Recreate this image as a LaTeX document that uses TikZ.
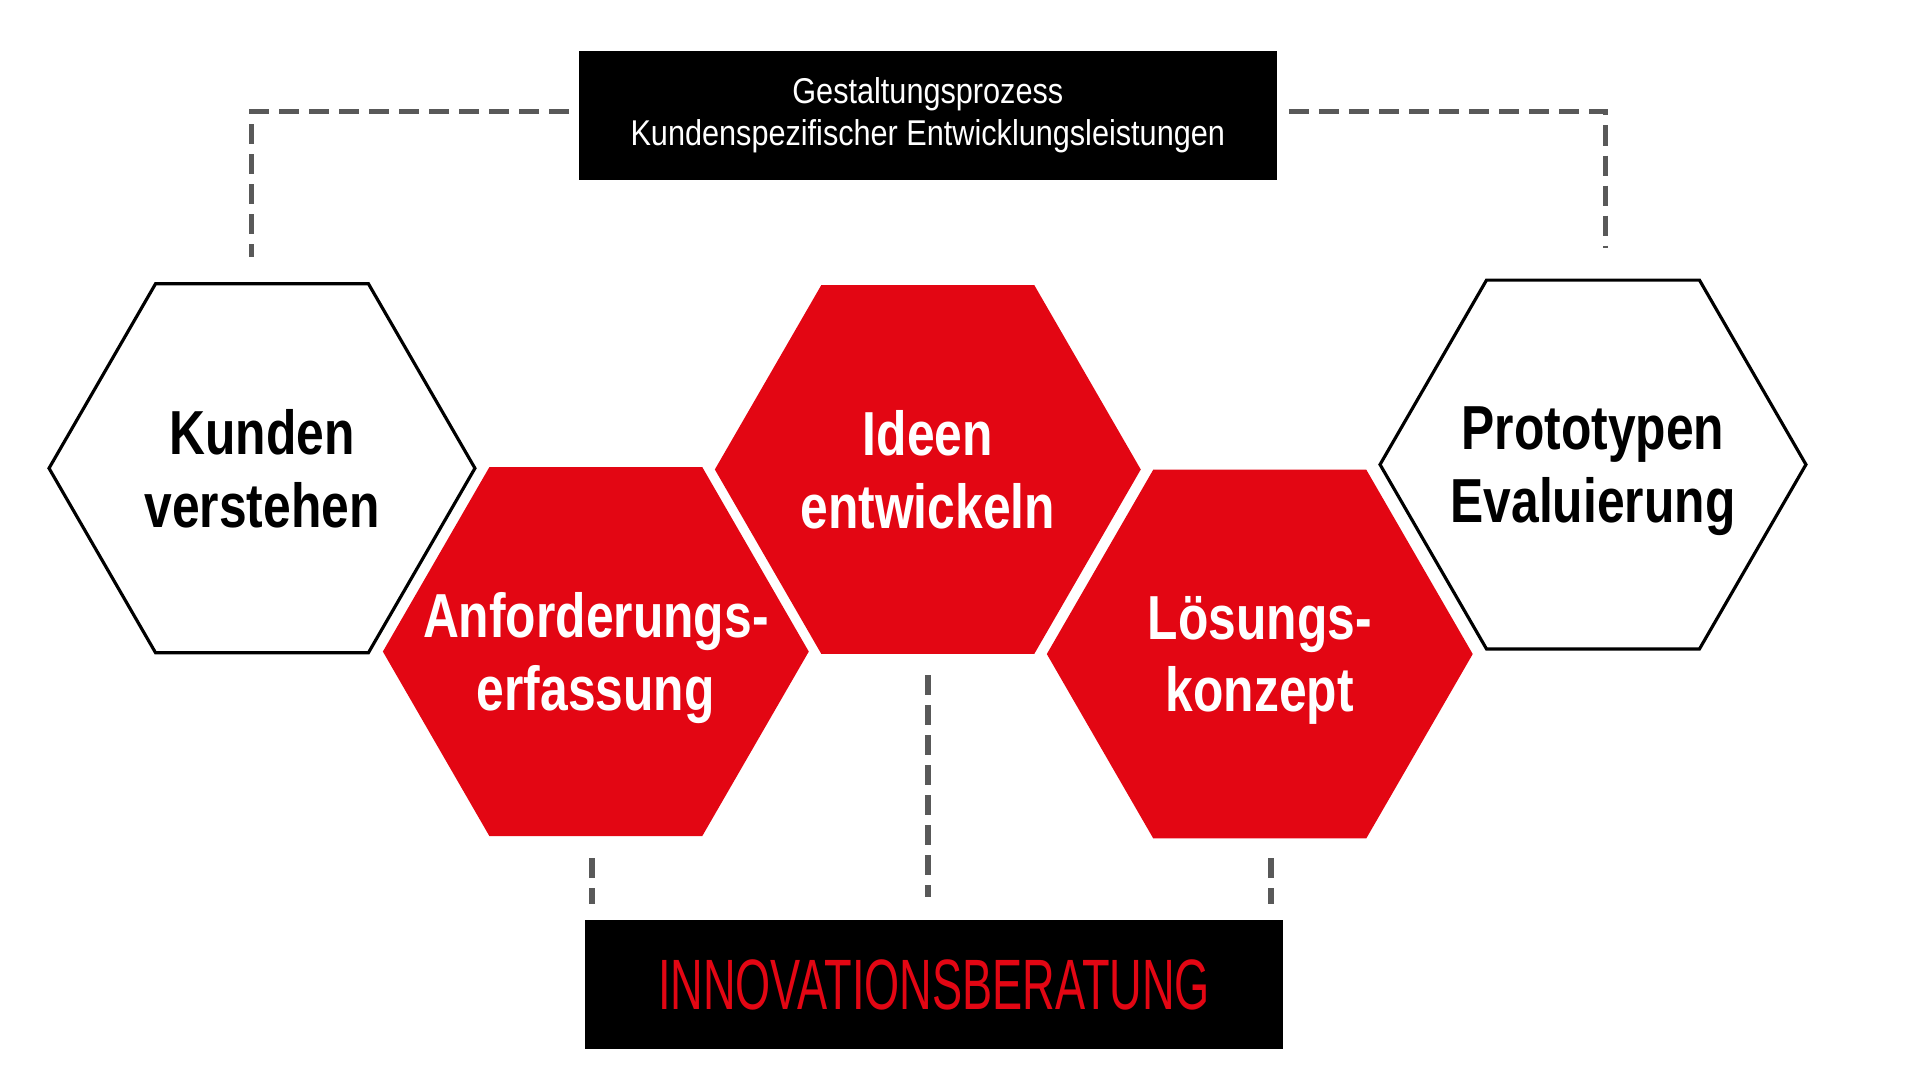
\documentclass[tikz,border=0pt]{standalone}
\usepackage{fontspec}
\setmainfont{Liberation Sans}
\newfontfamily\hexfont[FakeStretch=0.8]{Liberation Sans}
\newfontfamily\titlefont[FakeStretch=0.855]{Liberation Sans}
\newfontfamily\bannerfont[FakeStretch=0.633]{Liberation Sans}
\usetikzlibrary{shapes.geometric,calc}
\definecolor{hexred}{HTML}{E30613}
\definecolor{dashgray}{HTML}{595959}
\begin{document}
\begin{tikzpicture}[x=0.012387cm, y=-0.012387cm,
		hex/.style={regular polygon, regular polygon sides=6, minimum size=4.26cm, inner sep=0pt, outer sep=0pt},
		hextext/.style={font=\hexfont\bfseries\fontsize{17.7}{20.7}\selectfont, align=center, text depth=0pt},
		whitehex/.style={hex, draw=black, line width=0.9pt, fill=white, label={[hextext, text=black]center:#1}},
		redhex/.style={hex, fill=hexred, label={[hextext, text=white]center:#1}},
		blackbox/.style={fill=black, minimum width=6.986cm, minimum height=1.288cm, inner sep=0pt},
		dashline/.style={draw=dashgray, line width=1.6pt, dash pattern=on 5.7pt off 2.85pt}]
		\useasboundingbox (0,0) rectangle (1550,871.9);
		% boxes
		\node[blackbox, text=white, align=center, font=\titlefont\fontsize{10.2}{12}\selectfont] (prozess) at (749,93) {Gestaltungsprozess\\Kundenspezifischer Entwicklungsleistungen};
		\node[blackbox, text=hexred, font=\bannerfont\fontsize{20.3}{24}\selectfont] (beratung) at (754,795) {INNOVATIONSBERATUNG};
		% hexagons
		\node[whitehex={Kunden\\verstehen}] (kunden) at (211.5,378) {};
		\node[redhex={Anforderungs-\\erfassung}] (anforderung) at (481,526) {};
		\node[redhex={Ideen\\entwickeln}] (ideen) at (749,379) {};
		\node[redhex={Lösungs-\\konzept}] (loesung) at (1017,528) {};
		\node[whitehex={Prototypen\\Evaluierung}] (prototyp) at (1286,375) {};
		% dashed links
		\draw[dashline] ($(prozess.west)+(-7,-3)$) -| ($(kunden.north)+(-8.5,-22)$);
		\draw[dashline] ($(prozess.east)+(9,-3)$) -| ($(prototyp.north)+(10,-26)$);
		\draw[dashline] ($(anforderung.south)+(-3,18)$) -- ($(beratung.north -| anforderung.south)+(-3,-13)$);
		\draw[dashline] ($(ideen.south)+(0,17)$) -- ($(beratung.north -| ideen.south)+(0,-18)$);
		\draw[dashline] ($(loesung.south)+(9,16)$) -- ($(beratung.north -| loesung.south)+(9,-13)$);
	\end{tikzpicture}
\end{document}
